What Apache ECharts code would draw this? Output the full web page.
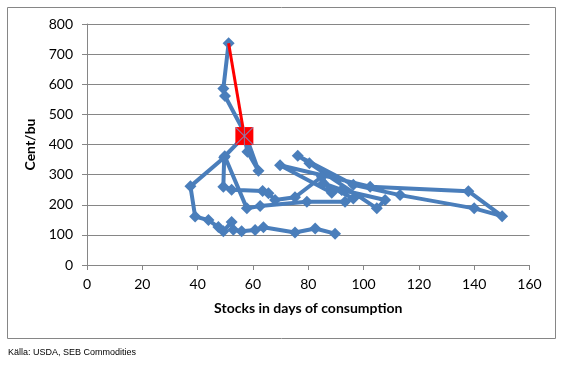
<!DOCTYPE html>
<html>
<head>
<meta charset="utf-8">
<script src="https://cdn.jsdelivr.net/npm/echarts@6/dist/echarts.min.js"></script>
<style>
html,body{margin:0;padding:0;background:#fff;}
#chart{width:566px;height:365px;}
</style>
</head>
<body>
<div id="chart"></div>
<script>
// Stocks in days of consumption (x) and price in cent/bu (y), in path order
const stocksDays = [89.7, 82.5, 75.2, 63.8, 60.8, 55.9, 52.9, 52.3, 49.3, 47.5, 43.9, 39.1, 37.4,
  49.6, 49.3, 52.3, 63.5, 65.6, 68.0, 75.2, 84.9, 88.5, 69.8, 102.4, 137.9, 150.1, 140.0, 113.2,
  96.3, 76.2, 80.4, 104.8, 107.8, 92.1, 85.5, 96.3, 93.3, 79.5, 62.6, 57.8, 49.8, 56.9, 58.0, 62.0,
  57.3, 49.9, 49.3, 51.2];
const priceCents = [104, 121, 108, 125, 116, 112, 117, 143, 112, 126, 149, 161, 261,
  357, 260, 250, 246, 238, 216, 225, 293, 240, 331, 260, 245, 162, 188, 232,
  266, 363, 338, 188, 216, 249, 271, 221, 210, 210, 196, 188, 361, 428, 376, 313,
  433, 561, 586, 736];
// Forecast segment (red)
const forecastDays = [51.2, 56.9];
const forecastPrice = [736, 428];
// Axis ticks
const xTicks = [0, 20, 40, 60, 80, 100, 120, 140, 160];
const yTicks = [0, 100, 200, 300, 400, 500, 600, 700, 800];

const blue = '#4A7EBB';
const mainData = stocksDays.map((d, i) => [d, priceCents[i]]);
const redData = forecastDays.map((d, i) => ({
  value: [d, forecastPrice[i]],
  symbol: i === forecastDays.length - 1 ? 'rect' : 'none',
  symbolSize: 18
}));
const lastF = forecastDays.length - 1;

const chart = echarts.init(document.getElementById('chart'), null, {renderer: 'canvas'});
const axisFont = {fontFamily: 'Lato', fontSize: 14, color: '#000'};
chart.setOption({
  animation: false,
  backgroundColor: '#fff',
  grid: {left: 87, right: 36.5, top: 24, bottom: 100, containLabel: false},
  xAxis: {
    type: 'value', min: xTicks[0], max: xTicks[xTicks.length - 1], interval: 20,
    name: 'Stocks in days of consumption', nameLocation: 'middle', nameGap: 36,
    nameTextStyle: {fontFamily: 'Lato', fontSize: 14, fontWeight: 'bold', color: '#000'},
    axisLine: {show: true, lineStyle: {color: '#868686', width: 1}},
    axisTick: {show: true, length: 5, lineStyle: {color: '#868686'}},
    axisLabel: Object.assign({margin: 12}, axisFont),
    splitLine: {show: false}
  },
  yAxis: {
    type: 'value', min: yTicks[0], max: yTicks[yTicks.length - 1], interval: 100,
    name: 'Cent/bu', nameLocation: 'middle', nameGap: 38, nameRotate: 90,
    nameTextStyle: {fontFamily: 'Lato', fontSize: 14, fontWeight: 'bold', color: '#000'},
    axisLine: {show: true, lineStyle: {color: '#868686', width: 1}},
    axisTick: {show: true, length: 5, lineStyle: {color: '#868686'}},
    axisLabel: Object.assign({margin: 14}, axisFont),
    splitLine: {show: true, lineStyle: {color: '#868686', width: 1}}
  },
  series: [
    {
      type: 'line', data: mainData, symbol: 'diamond', symbolSize: 12,
      lineStyle: {color: blue, width: 4}, itemStyle: {color: blue},
      z: 2
    },
    {
      type: 'line', data: redData,
      lineStyle: {color: '#FF0000', width: 3}, itemStyle: {color: '#FF0000'},
      z: 3
    },
    {
      type: 'scatter', data: [[forecastDays[lastF], forecastPrice[lastF]]],
      symbol: 'path://M0,0.8 L0.8,0 L20,19.2 L19.2,20 Z M19.2,0 L20,0.8 L0.8,20 L0,19.2 Z M9.5,0 L10.5,0 L10.5,20 L9.5,20 Z',
      symbolSize: 18, itemStyle: {color: '#6F9BD6'}, z: 4
    }
  ],
  graphic: [
    {type: 'rect', shape: {x: 7.5, y: 7.5, width: 548, height: 331}, style: {fill: 'none', stroke: '#868686', lineWidth: 1}, z: -1},
    {type: 'text', left: 8, top: 348, style: {text: 'Källa: USDA, SEB Commodities', font: '9px "Liberation Sans"', fill: '#000'}}
  ]
});
</script>
</body>
</html>
